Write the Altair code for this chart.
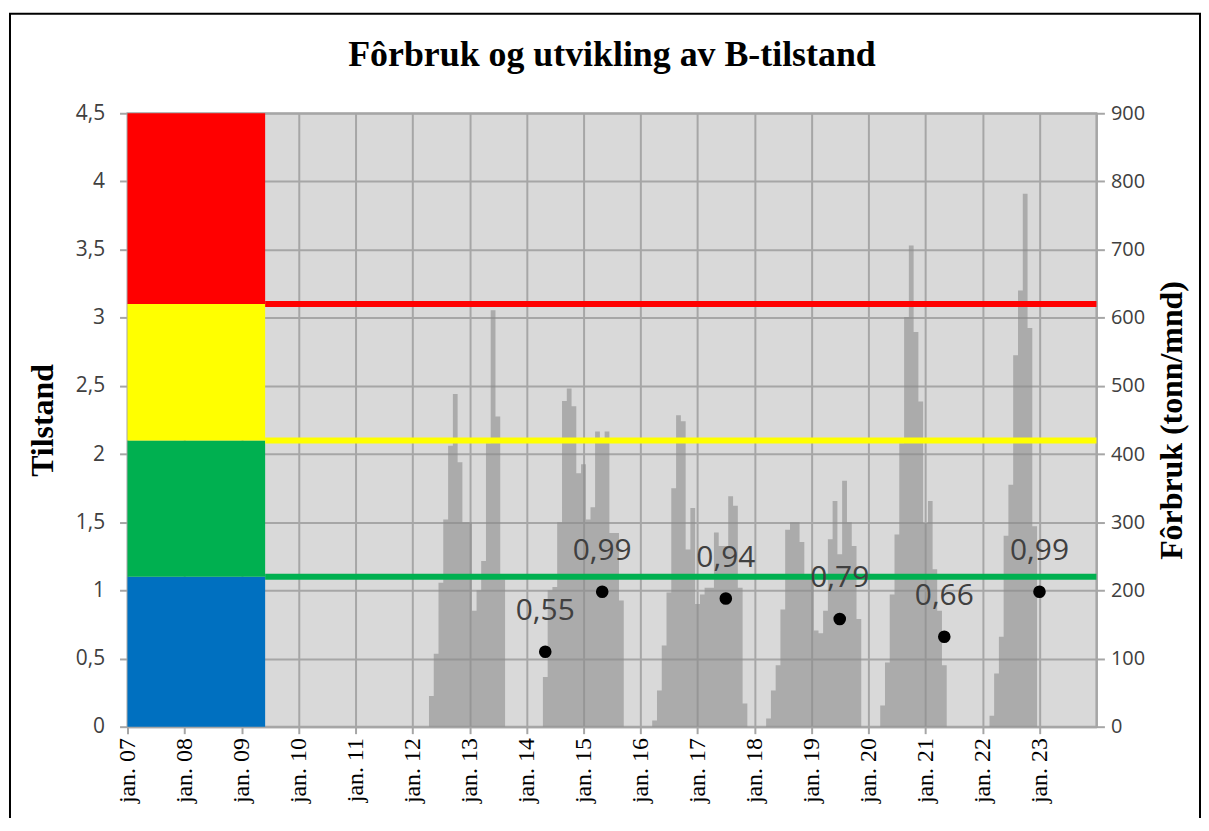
import altair as alt
import pandas as pd

TITLE = "Fôrbruk og utvikling av B-tilstand"
LEFT_TITLE = "Tilstand"
RIGHT_TITLE = "Fôrbruk (tonn/mnd)"

# Monthly feed use (tonnes/month): one list per production cycle, first month given
cycle_starts = ["2012-05", "2014-05", "2016-04", "2018-04", "2020-04", "2022-03"]
cycle_feed = [
    [45, 107, 211, 304, 412, 488, 388, 300, 300, 170, 200, 243, 416, 611, 455, 216],
    [73, 200, 205, 300, 478, 496, 470, 372, 385, 304, 322, 433, 420, 433, 284, 284, 185],
    [9, 53, 119, 197, 350, 457, 448, 260, 321, 180, 194, 204, 204, 285, 265, 265, 338, 324, 204, 34],
    [12, 53, 90, 172, 289, 300, 300, 271, 221, 219, 141, 137, 170, 275, 331, 253, 361, 300, 265, 158],
    [31, 94, 194, 282, 416, 601, 706, 579, 477, 299, 331, 231, 170, 90],
    [16, 78, 132, 280, 355, 545, 640, 782, 585, 294],
]

# B-survey condition (tilstand)
survey_dates = ["2014-05-01", "2015-05-01", "2017-07-01", "2019-07-01", "2021-05-01", "2023-01-01"]
survey_values = [0.55, 0.99, 0.94, 0.79, 0.66, 0.99]

# Condition classes shown as coloured blocks and limit lines
zone_low = [0, 1.1, 2.1, 3.1]
zone_high = [1.1, 2.1, 3.1, 4.5]
zone_colors = ["#0070c0", "#00b050", "#ffff00", "#ff0000"]
zone_from = "2007-01-01"
zone_to = "2009-06-01"
limit_levels = [1.1, 2.1, 3.1]
limit_colors = ["#00b050", "#ffff00", "#ff0000"]

axis_years = list(range(2007, 2024))
axis_end_year = 2024
left_ticks = [0, 0.5, 1, 1.5, 2, 2.5, 3, 3.5, 4, 4.5]
right_ticks = [0, 100, 200, 300, 400, 500, 600, 700, 800, 900]

# ---- tables -------------------------------------------------------------
# Each monthly column is centred on the first day of its month; a cycle is
# drawn as one stepped area (left edge of every month + right edge of the last).
rows = []
for ci, (start, values) in enumerate(zip(cycle_starts, cycle_feed)):
    months = pd.period_range(start, periods=len(values), freq="M")
    for m, v in zip(months, values):
        t = m.start_time
        p = (m - 1).start_time
        rows.append({"syklus": f"s{ci}", "kant": p + (t - p) / 2, "tonn": v})
    last = months[-1]
    t = last.start_time
    n = (last + 1).start_time
    rows.append({"syklus": f"s{ci}", "kant": t + (n - t) / 2, "tonn": values[-1]})
feed = pd.DataFrame(rows)

survey = pd.DataFrame({
    "dato": pd.to_datetime(survey_dates),
    "tilstand": survey_values,
    "tekst": [f"{v:.2f}".replace(".", ",") for v in survey_values],
})
zones = pd.DataFrame({
    "fra": pd.to_datetime([zone_from] * 4),
    "til": pd.to_datetime([zone_to] * 4),
    "lav": zone_low,
    "hoy": zone_high,
    "farge": zone_colors,
})
limits = pd.DataFrame({
    "fra": pd.to_datetime([zone_to] * 3),
    "til": pd.to_datetime([f"{axis_end_year}-01-01"] * 3),
    "niva": limit_levels,
    "farge": limit_colors,
})
frame_df = pd.DataFrame({"k": [0]})

W, H = 973, 616

x_scale = alt.Scale(domain=[alt.DateTime(year=axis_years[0], month=1, date=1),
                            alt.DateTime(year=axis_end_year, month=1, date=1)])
x_axis = alt.Axis(
    values=[alt.DateTime(year=y, month=1, date=1) for y in axis_years],
    labelExpr="'jan. ' + timeFormat(datum.value, '%y')",
    labelAngle=270, labelFont="Liberation Serif", labelFontSize=24,
    labelColor="black", tickSize=7, labelPadding=4, grid=True, title=None,
)
yl_scale = alt.Scale(domain=[0, 4.5], nice=False, zero=True)
yl_axis = alt.Axis(
    orient="left", values=left_ticks, grid=True,
    labelExpr="replace(format(datum.value, '.1~f'), '.', ',')",
    labelFont="Open Sans", labelFontSize=21, labelColor="#404040",
    tickSize=8, labelPadding=15, title=LEFT_TITLE,
    titleFont="Liberation Serif", titleFontSize=32, titleFontWeight="bold",
    titleColor="black", titlePadding=16,
)
yr_axis = alt.Axis(
    orient="right", values=right_ticks, grid=False,
    labelFont="Open Sans", labelFontSize=20, labelColor="#404040",
    tickSize=8, labelPadding=6, title=RIGHT_TITLE, titleAngle=270,
    titleFont="Liberation Serif", titleFontSize=32, titleFontWeight="bold",
    titleColor="black", titlePadding=44,
)

bars = alt.Chart(feed).mark_area(
    interpolate="step-after", color="#8c8c8c", opacity=0.6
).encode(
    x=alt.X("kant:T", scale=x_scale, axis=x_axis),
    y=alt.Y("tonn:Q", scale=alt.Scale(domain=[0, 900], nice=False),
            axis=yr_axis, stack=None),
    detail="syklus:N",
)

zone_layer = alt.Chart(zones).mark_rect().encode(
    x=alt.X("fra:T", scale=x_scale, axis=x_axis),
    x2="til:T",
    y=alt.Y("lav:Q", scale=yl_scale, axis=yl_axis),
    y2="hoy:Q",
    color=alt.Color("farge:N", scale=None),
)
limit_layer = alt.Chart(limits).mark_rule(strokeWidth=6).encode(
    x=alt.X("fra:T", scale=x_scale, axis=x_axis),
    x2="til:T",
    y=alt.Y("niva:Q", scale=yl_scale, axis=yl_axis),
    color=alt.Color("farge:N", scale=None),
)
points = alt.Chart(survey).mark_circle(size=160, color="black", opacity=1).encode(
    x=alt.X("dato:T", scale=x_scale, axis=x_axis),
    y=alt.Y("tilstand:Q", scale=yl_scale, axis=yl_axis),
)
labels = alt.Chart(survey).mark_text(
    dy=-41, fontSize=30, font="Open Sans", color="#404040"
).encode(
    x=alt.X("dato:T", scale=x_scale, axis=x_axis),
    y=alt.Y("tilstand:Q", scale=yl_scale, axis=yl_axis),
    text="tekst:N",
)
frame = alt.Chart(frame_df).mark_rect(
    fillOpacity=0, stroke="black", strokeWidth=2
).encode(
    x=alt.value(-118), x2=alt.value(W + 104),
    y=alt.value(-100), y2=alt.value(H + 300),
)

left = alt.layer(zone_layer, limit_layer, points, labels, frame)

chart = (
    alt.layer(bars, left)
    .resolve_scale(y="independent")
    .properties(
        width=W, height=H,
        padding={"left": 120, "top": 104, "right": 105, "bottom": 90},
        autosize=alt.AutoSizeParams(type="none"),
        title=alt.TitleParams(
            TITLE, font="Liberation Serif", fontSize=36, fontWeight="bold",
            anchor="middle", frame="group", offset=-90, baseline="alphabetic",
            color="black",
        ),
    )
    .configure_view(fill="#d9d9d9", stroke="#a6a6a6", strokeWidth=2)
    .configure_axis(
        gridColor="#a6a6a6", gridWidth=2, gridOpacity=1,
        domainColor="#a6a6a6", domainWidth=2, tickColor="#a6a6a6", tickWidth=2,
    )
)

chart.save("out.html", embed_options={"renderer": "svg", "actions": False})
